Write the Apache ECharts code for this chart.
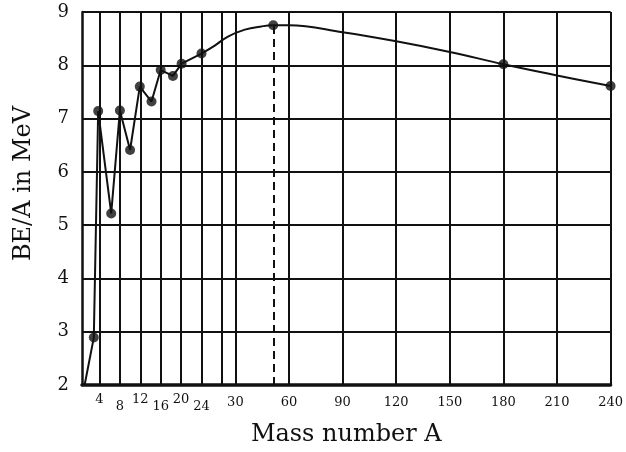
<!DOCTYPE html>
<html>
<head>
<meta charset="utf-8">
<script src="https://cdn.jsdelivr.net/npm/echarts@6/dist/echarts.min.js"></script>
<style>
  html, body { margin: 0; padding: 0; background: #fff; }
  #chart { width: 626px; height: 452px; }
</style>
</head>
<body>
<div id="chart"></div>
<script>
// mass number axis is not linear: 0..28 is stretched, 30..240 is squeezed
const scaleA = [0, 4, 28, 30, 240];
const scaleU = [0, 3.5, 28, 30.7, 105.8];

// vertical grid lines and tick labels (mass number)
const gridA = [4, 8, 12, 16, 20, 24, 28, 30, 60, 90, 120, 150, 180, 210, 240];
const labelA = [4, 8, 12, 16, 20, 24, 30, 60, 90, 120, 150, 180, 210, 240];

// light nuclei, joined by straight segments
const lightA = [0.6, 2.7, 3.7, 6.3, 8.0, 10.0, 11.9, 14.2, 16.0, 18.4, 20.1, 24.0];
const lightBE = [2.0, 2.89, 7.14, 5.22, 7.15, 6.41, 7.60, 7.32, 7.91, 7.80, 8.03, 8.22];

// smooth curve for heavier nuclei
const curveA = [24.0, 26.6, 28.9, 35.3, 44.6, 51.2, 60, 90, 120, 150, 180, 210, 240];
const curveBE = [8.22, 8.37, 8.54, 8.67, 8.73, 8.75, 8.75, 8.62, 8.45, 8.25, 8.02, 7.81, 7.61];

// marked points
const dotA = [2.7, 3.7, 6.3, 8.0, 10.0, 11.9, 14.2, 16.0, 18.4, 20.1, 24.0, 51.2, 180, 240];
const dotBE = [2.89, 7.14, 5.22, 7.15, 6.41, 7.60, 7.32, 7.91, 7.80, 8.03, 8.22, 8.75, 8.02, 7.61];

// peak marker
const peakA = 51.2;
const peakBE = 8.75;

function toU(a) {
  for (let i = 1; i < scaleA.length; i++) {
    if (a <= scaleA[i]) {
      const t = (a - scaleA[i - 1]) / (scaleA[i] - scaleA[i - 1]);
      return scaleU[i - 1] + t * (scaleU[i] - scaleU[i - 1]);
    }
  }
  return scaleU[scaleU.length - 1];
}

const labelByU = {};
labelA.forEach(a => { labelByU[toU(a).toFixed(3)] = a; });

const pairs = (xs, ys) => xs.map((a, i) => [toU(a), ys[i]]);

const ink = '#111';
const serif = '"DejaVu Serif", "Liberation Serif", serif';

const chart = echarts.init(document.getElementById('chart'), null, { renderer: 'canvas' });

chart.setOption({
  backgroundColor: '#fff',
  animation: false,
  grid: { left: 82, top: 12, right: 15, bottom: 62 },
  xAxis: {
    type: 'value',
    min: 0,
    max: toU(240),
    name: 'Mass number A',
    nameLocation: 'middle',
    nameGap: 38,
    nameTextStyle: { fontFamily: serif, fontSize: 24, color: ink },
    axisLine: { show: true, lineStyle: { color: ink, width: 3.5 } },
    axisTick: { show: false, customValues: gridA.map(toU) },
    splitLine: { show: true, lineStyle: { color: ink, width: 2 } },
    axisLabel: {
      customValues: labelA.map(toU),
      margin: 8,
      fontFamily: serif,
      fontSize: 13,
      color: ink,
      formatter: function (v) {
        const a = labelByU[v.toFixed(3)];
        if (a === undefined) return '';
        if (a < 30) return (a / 4) % 2 === 1 ? '{hi|' + a + '}' : '{lo|' + a + '}';
        return '{mid|' + a + '}';
      },
      rich: {
        hi: { fontFamily: serif, fontSize: 13, color: ink, padding: [0, 0, 0, 0] },
        lo: { fontFamily: serif, fontSize: 13, color: ink, padding: [7, 0, 0, 0] },
        mid: { fontFamily: serif, fontSize: 13, color: ink, padding: [3, 0, 0, 0] }
      }
    }
  },
  yAxis: {
    type: 'value',
    min: 2,
    max: 9,
    interval: 1,
    name: 'BE/A in MeV',
    nameLocation: 'middle',
    nameGap: 46,
    nameRotate: 90,
    nameTextStyle: { fontFamily: serif, fontSize: 24, color: ink, padding: [0, 0, 0, 30] },
    axisLine: { show: true, lineStyle: { color: ink, width: 2.5 } },
    axisTick: { show: false },
    splitLine: { show: true, lineStyle: { color: ink, width: 2 } },
    axisLabel: { margin: 13, fontFamily: serif, fontSize: 18, color: ink }
  },
  series: [
    {
      type: 'line',
      data: pairs(lightA, lightBE),
      showSymbol: false,
      lineStyle: { color: ink, width: 2 },
      z: 3
    },
    {
      type: 'line',
      data: pairs(curveA, curveBE),
      smooth: 0.4,
      showSymbol: false,
      lineStyle: { color: ink, width: 2 },
      z: 3,
      markLine: {
        silent: true,
        symbol: 'none',
        label: { show: false },
        lineStyle: { color: ink, width: 2, type: [8, 5] },
        data: [[{ coord: [toU(peakA), 2] }, { coord: [toU(peakA), peakBE] }]]
      }
    },
    {
      type: 'scatter',
      data: pairs(dotA, dotBE),
      symbol: 'circle',
      symbolSize: 10,
      itemStyle: { color: ink },
      z: 4
    }
  ]
});
</script>
</body>
</html>
